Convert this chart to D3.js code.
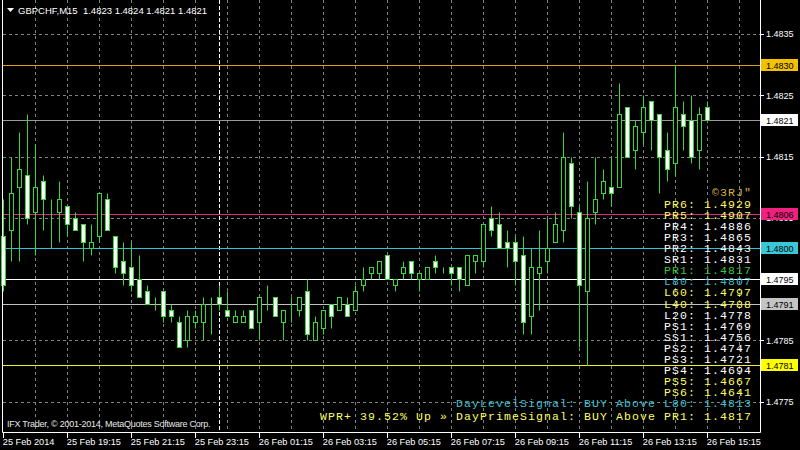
<!DOCTYPE html>
<html><head><meta charset="utf-8">
<script src="https://cdn.jsdelivr.net/npm/d3@7"></script>
<style>body{margin:0;background:#000}svg{display:block}</style>
</head><body><svg id="c" width="800" height="450"></svg>
<script>
// ---------- DATA ----------
const symbolTitle = "GBPCHF,M15";
const lastQuote = ["1.4823", "1.4824", "1.4821", "1.4821"];

const opens = [1.4802,1.4803,1.4810,1.4812,1.4806,1.4811,1.4807,1.4806,1.4807,1.4805,
1.4804,1.4800,1.4802,1.4808,1.4802,1.4798,1.4797,1.4795,1.4793,1.4792,
1.4793,1.4790,1.4788,1.4785,1.4788,1.4788,1.4790,1.4792,1.4790,1.4788,
1.4788,1.4790,1.4788,1.4792,1.4792,1.4788,1.4790,1.4790,1.4793,1.4785,
1.4787,1.4791,1.4790,1.4791,1.4790,1.4794,1.4796,1.4796,1.4799,1.4794,
1.4796,1.4798,1.4795,1.4795,1.4798,1.4796,1.4797,1.4797,1.4794,1.4798,
1.4798,1.4805,1.4804,1.4801,1.4801,1.4799,1.4789,1.4796,1.4798,1.4801,
1.4803,1.4814,1.4806,1.4793,1.4806,1.4809,1.4810,1.4810,1.4823,1.4816,
1.4819,1.4824,1.4822,1.4816,1.4814,1.4822,1.4821,1.4816,1.4823];
const highs = [1.4808,1.4815,1.4819,1.4822,1.4817,1.4812,1.4808,1.4811,1.4807,1.4806,
1.4804,1.4804,1.4809,1.4809,1.4802,1.4801,1.4801,1.4799,1.4794,1.4792,
1.4793,1.4791,1.4789,1.4790,1.4790,1.4792,1.4792,1.4794,1.4793,1.4790,
1.4790,1.4790,1.4792,1.4794,1.4792,1.4790,1.4792,1.4792,1.4795,1.4789,
1.4790,1.4791,1.4792,1.4792,1.4794,1.4797,1.4797,1.4798,1.4799,1.4795,
1.4798,1.4798,1.4796,1.4797,1.4799,1.4797,1.4797,1.4797,1.4799,1.4799,
1.4804,1.4807,1.4806,1.4803,1.4802,1.4802,1.4800,1.4803,1.4805,1.4806,
1.4819,1.4815,1.4807,1.4811,1.4815,1.4813,1.4815,1.4827,1.4823,1.4821,
1.4825,1.4824,1.4822,1.4819,1.4830,1.4824,1.4825,1.4823,1.4824];
const lows = [1.4793,1.4798,1.4798,1.4804,1.4799,1.4803,1.4800,1.4801,1.4802,1.4803,
1.4798,1.4799,1.4801,1.4803,1.4796,1.4794,1.4793,1.4792,1.4791,1.4790,
1.4788,1.4788,1.4784,1.4784,1.4787,1.4785,1.4786,1.4790,1.4789,1.4788,
1.4788,1.4787,1.4785,1.4790,1.4789,1.4785,1.4788,1.4789,1.4785,1.4785,
1.4786,1.4787,1.4790,1.4789,1.4790,1.4793,1.4795,1.4795,1.4795,1.4793,
1.4795,1.4795,1.4793,1.4795,1.4796,1.4796,1.4794,1.4793,1.4794,1.4796,
1.4797,1.4802,1.4800,1.4797,1.4794,1.4786,1.4786,1.4790,1.4796,1.4801,
1.4801,1.4805,1.4784,1.4781,1.4804,1.4808,1.4807,1.4810,1.4815,1.4813,
1.4817,1.4816,1.4809,1.4811,1.4812,1.4816,1.4814,1.4813,1.4821];
const closes = [1.4794,1.4809,1.4813,1.4805,1.4810,1.4808,1.4807,1.4808,1.4804,1.4803,
1.4801,1.4801,1.4809,1.4803,1.4797,1.4796,1.4794,1.4792,1.4791,1.4792,
1.4789,1.4789,1.4784,1.4789,1.4789,1.4791,1.4790,1.4791,1.4789,1.4789,
1.4789,1.4787,1.4792,1.4792,1.4789,1.4790,1.4790,1.4792,1.4786,1.4788,
1.4790,1.4789,1.4792,1.4789,1.4793,1.4795,1.4797,1.4798,1.4795,1.4795,
1.4797,1.4796,1.4796,1.4797,1.4797,1.4796,1.4796,1.4795,1.4799,1.4799,
1.4804,1.4803,1.4800,1.4800,1.4798,1.4788,1.4797,1.4797,1.4800,1.4804,
1.4815,1.4807,1.4794,1.4805,1.4808,1.4811,1.4809,1.4822,1.4815,1.4820,
1.4823,1.4821,1.4815,1.4813,1.4823,1.4820,1.4815,1.4822,1.4821];

const timeLabels = ["25 Feb 2014","25 Feb 19:15","25 Feb 21:15","25 Feb 23:15","26 Feb 01:15","26 Feb 03:15",
  "26 Feb 05:15","26 Feb 07:15","26 Feb 09:15","26 Feb 11:15","26 Feb 13:15","26 Feb 15:15"];
const daySeparatorBar = 27;
const priceTicks = [1.4775, 1.4785, 1.4795, 1.4805, 1.4815, 1.4825, 1.4835];

const levelValues = [1.4830, 1.4821, 1.48056, 1.4800, 1.4795, 1.4791, 1.4781];
const levelLineColors = ["#e0a000", "#9a9a9a", "#e02a80", "#30c4d8", "#ffffff", "#c0c0c0", "#f0f020"];
const levelTagColors  = ["#f2c200", "#ffffff", "#f0207f", "#38c8d8", "#ffffff", "#c4c4c4", "#ffff00"];

const pivotNames  = ["PR6","PR5","PR4","PR3","PR2","SR1","PR1","L80","L60","L40","L20","PS1","SS1","PS2","PS3","PS4","PS5","PS6"];
const pivotValues = ["1.4929","1.4907","1.4886","1.4865","1.4843","1.4831","1.4817","1.4807","1.4797","1.4788","1.4778","1.4769","1.4756","1.4747","1.4721","1.4694","1.4667","1.4641"];
const pivotColors = ["#ffff60","#ffff60","#ffffff","#ffffff","#ffffff","#ffffff","#40c040","#40b8c8","#ffff60","#ffff60","#ffffff","#ffffff","#ffffff","#ffffff","#ffffff","#ffffff","#ffff60","#ffff60"];
const signatureText = "\u00A93RJ\"";
const dayLevelSignal = "DayLevelSignal: BUY Above L80: 1.4813";
const dayPrimeSignal = "WPR+ 39.52% Up \u00BB DayPrimeSignal: BUY Above PR1: 1.4817";
const copyrightText = "IFX Trader, \u00A9 2001-2014, MetaQuotes Software Corp.";

// ---------- DRAW ----------
const svg = d3.select("#c");
const W = 800, H = 450;
const plotL = 2.5, plotR = 760.5, plotB = 432.5;
const px = v => Math.round(v) + 0.5;
const x = d3.scaleLinear().domain([0, 88]).range([3.3, 707.3]);
const y = d3.scaleLinear().domain([1.4775, 1.4835]).range([401.7, 33.9]);
const sans = "'Liberation Sans', Arial, sans-serif";
const mono = "'Liberation Mono', 'Courier New', monospace";
const bull = "#38d838";

svg.append("rect").attr("width", W).attr("height", H).attr("fill", "#000");

// grid
const gridColor = "#808080";
svg.append("g").selectAll("line").data(priceTicks).join("line")
  .attr("x1", 3).attr("x2", 760)
  .attr("y1", d => px(y(d))).attr("y2", d => px(y(d)))
  .attr("stroke", gridColor).attr("stroke-dasharray", "3,3");
const vGrid = d3.range(0, 96, 4).filter(i => x(i) > 5 && x(i) < 758);
svg.append("g").selectAll("line").data(vGrid).join("line")
  .attr("x1", d => px(x(d))).attr("x2", d => px(x(d)))
  .attr("y1", 0).attr("y2", 432)
  .attr("stroke", gridColor).attr("stroke-dasharray", "3,3");
// day separator
svg.append("line")
  .attr("x1", px(x(daySeparatorBar))).attr("x2", px(x(daySeparatorBar)))
  .attr("y1", 0).attr("y2", 432)
  .attr("stroke", "#ffffff").attr("stroke-dasharray", "4,2");

// level lines
svg.append("g").selectAll("line").data(levelValues).join("line")
  .attr("x1", 3).attr("x2", 760)
  .attr("y1", d => px(y(d))).attr("y2", d => px(y(d)))
  .attr("stroke", (d, i) => levelLineColors[i]);

// candles
const bars = opens.map((o, i) => ({ i, o, h: highs[i], l: lows[i], c: closes[i] }));
const cg = svg.append("g");
cg.selectAll("line").data(bars).join("line")
  .attr("x1", d => px(x(d.i))).attr("x2", d => px(x(d.i)))
  .attr("y1", d => px(y(d.h))).attr("y2", d => px(y(d.l)))
  .attr("stroke", bull);
cg.selectAll("rect").data(bars).join("rect")
  .attr("x", d => px(x(d.i)) - 2)
  .attr("width", 4)
  .attr("y", d => px(y(Math.max(d.o, d.c))))
  .attr("height", d => Math.max(0, px(y(Math.min(d.o, d.c))) - px(y(Math.max(d.o, d.c)))))
  .attr("fill", d => d.c < d.o ? "#ffffff" : "#000000")
  .attr("stroke", bull);

// frame
svg.append("path")
  .attr("d", `M${plotL},0V${plotB}H${plotR}V0`)
  .attr("fill", "none").attr("stroke", "#ffffff");

// price axis ticks & labels
const ay = svg.append("g");
ay.selectAll("line").data(priceTicks).join("line")
  .attr("x1", 761).attr("x2", 764)
  .attr("y1", d => px(y(d))).attr("y2", d => px(y(d)))
  .attr("stroke", "#ffffff");
ay.selectAll("text").data(priceTicks).join("text")
  .attr("x", 766).attr("y", d => y(d) + 3.3)
  .attr("fill", "#ffffff").attr("font-family", sans).attr("font-size", 9)
  .text(d => d.toFixed(4));

// level tags
const tg = svg.append("g");
tg.selectAll("rect").data(levelValues).join("rect")
  .attr("x", 761).attr("width", 37)
  .attr("y", d => px(y(d)) - 6.5).attr("height", 12)
  .attr("fill", (d, i) => levelTagColors[i]);
tg.selectAll("text").data(levelValues).join("text")
  .attr("x", 766).attr("y", d => px(y(d)) + 3)
  .attr("fill", "#000").attr("font-family", sans).attr("font-size", 9)
  .text(d => d.toFixed(4));

// time axis
const tickBars = timeLabels.map((t, k) => k * 8);
const ax = svg.append("g");
ax.selectAll("line").data(tickBars).join("line")
  .attr("x1", d => px(x(d))).attr("x2", d => px(x(d)))
  .attr("y1", 433).attr("y2", 438)
  .attr("stroke", "#ffffff");
ax.selectAll("text").data(timeLabels).join("text")
  .attr("x", (d, k) => x(tickBars[k]) - 0.5).attr("y", 445)
  .attr("fill", "#ffffff").attr("font-family", sans).attr("font-size", 9.2)
  .text(d => d);

// header
svg.append("path").attr("d", "M7,8H14L10.5,12Z").attr("fill", "#ffffff");
svg.append("text").attr("x", 18).attr("y", 14)
  .attr("fill", "#ffffff").attr("font-family", sans).attr("font-size", 9.5)
  .attr("xml:space", "preserve")
  .text(symbolTitle + "  " + lastQuote.join(" "));

// copyright
svg.append("text").attr("x", 7).attr("y", 427)
  .attr("fill", "#e8e8e8").attr("font-family", sans).attr("font-size", 9)
  .attr("letter-spacing", -0.25)
  .text(copyrightText);

// indicator text block
const tx = 752;
const mg = svg.append("g").attr("font-family", mono).attr("font-size", 11.5)
  .attr("letter-spacing", 1.1).attr("text-anchor", "end");
mg.append("text").attr("x", tx).attr("y", 196).attr("fill", "#d8b440").text(signatureText);
mg.selectAll("text.pv").data(pivotNames).join("text").attr("class", "pv")
  .attr("x", tx).attr("y", (d, k) => 208 + k * 11.06)
  .attr("fill", (d, k) => pivotColors[k])
  .attr("xml:space", "preserve")
  .text((d, k) => d + ": " + pivotValues[k]);
mg.append("text").attr("x", tx).attr("y", 407).attr("fill", "#40c0d0")
  .attr("xml:space", "preserve").text(dayLevelSignal);
mg.append("text").attr("x", tx).attr("y", 420).attr("fill", "#ffff60")
  .attr("xml:space", "preserve").text(dayPrimeSignal);
</script>
</body></html>
